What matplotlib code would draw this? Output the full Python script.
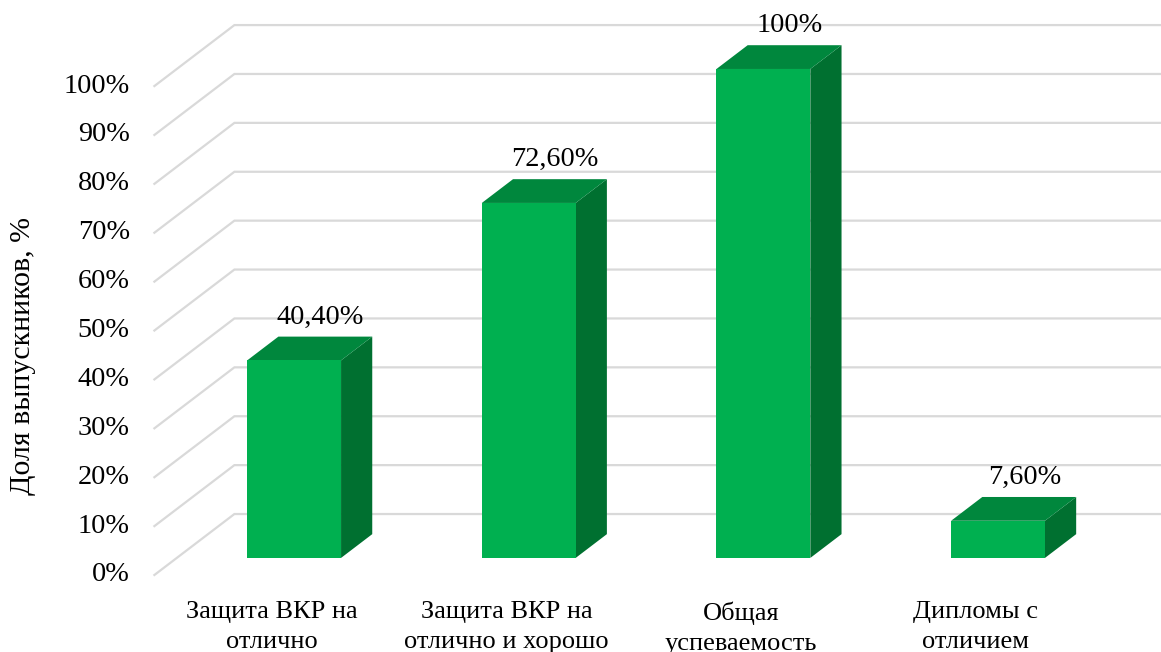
import matplotlib
matplotlib.use("Agg")
import matplotlib.pyplot as plt
from matplotlib.patches import Polygon

categories = ["Защита ВКР на\nотлично", "Защита ВКР на\nотлично и хорошо",
              "Общая\nуспеваемость", "Дипломы с\nотличием"]
values = [40.4, 72.6, 100.0, 7.6]
value_labels = ["40,40%", "72,60%", "100%", "7,60%"]
y_ticks = list(range(0, 101, 10))
y_tick_labels = [f"{t}%" for t in y_ticks]
y_title = "Доля выпускников, %"

plt.rcParams['font.family'] = ['Liberation Serif', 'DejaVu Serif']

W, H, DPI = 1161, 652, 100
fig = plt.figure(figsize=(W / DPI, H / DPI), dpi=DPI)
ax = fig.add_axes([0, 0, 1, 1])
ax.axis("off")

# axis scaling: x in category units, y in percent
ax.set_xlim(-1.158, 3.79)
ax.set_ylim(-15.75, 117.6)

# oblique depth projection
DX = 0.341   # category units at full depth
DY = 12.47   # percent units at full depth


def proj(x, y, z):
    return (x + z * DX, y + z * DY)


x_left, x_right = -0.5, len(categories) - 0.5
grid_c = "#d9d9d9"
for t in y_ticks:
    p0 = proj(x_left, t, 0)
    p1 = proj(x_left, t, 1)
    p2 = proj(x_right + 0.2, t, 1)
    ax.plot([p0[0], p1[0], p2[0]], [p0[1], p1[1], p2[1]], color=grid_c, lw=1.6,
            solid_joinstyle="miter", zorder=1)

for t, lab in zip(y_ticks, y_tick_labels):
    ax.text(-0.605, t, lab, ha="right", va="center", fontsize=20.3, color="#000000")

front_c = "#00b050"
top_c = "#00873d"
side_c = "#007030"
hw = 0.2
z0, z1 = 0.28, 0.67
for i, (v, lab) in enumerate(zip(values, value_labels)):
    xl, xr = i - hw, i + hw
    front = [proj(xl, 0, z0), proj(xr, 0, z0), proj(xr, v, z0), proj(xl, v, z0)]
    top = [proj(xl, v, z0), proj(xr, v, z0), proj(xr, v, z1), proj(xl, v, z1)]
    side = [proj(xr, 0, z0), proj(xr, 0, z1), proj(xr, v, z1), proj(xr, v, z0)]
    ax.add_patch(Polygon(side, closed=True, facecolor=side_c, edgecolor="none", zorder=3))
    ax.add_patch(Polygon(top, closed=True, facecolor=top_c, edgecolor="none", zorder=3))
    ax.add_patch(Polygon(front, closed=True, facecolor=front_c, edgecolor="none", zorder=4))
    cx, cy = proj(i, v, z1)
    ax.annotate(lab, (cx - 0.02, cy), xytext=(0, 14), textcoords="offset points",
                ha="center", va="center", fontsize=20.3, color="#000000", zorder=5)

for i, c in enumerate(categories):
    ax.text(i, -5.4, c, ha="center", va="top", fontsize=19, linespacing=1.47,
            color="#000000")

ax.text(-1.06, 44.7, y_title, rotation=90, ha="center", va="center", fontsize=21.5,
        color="#000000")

fig.savefig("out.png", dpi=DPI)
